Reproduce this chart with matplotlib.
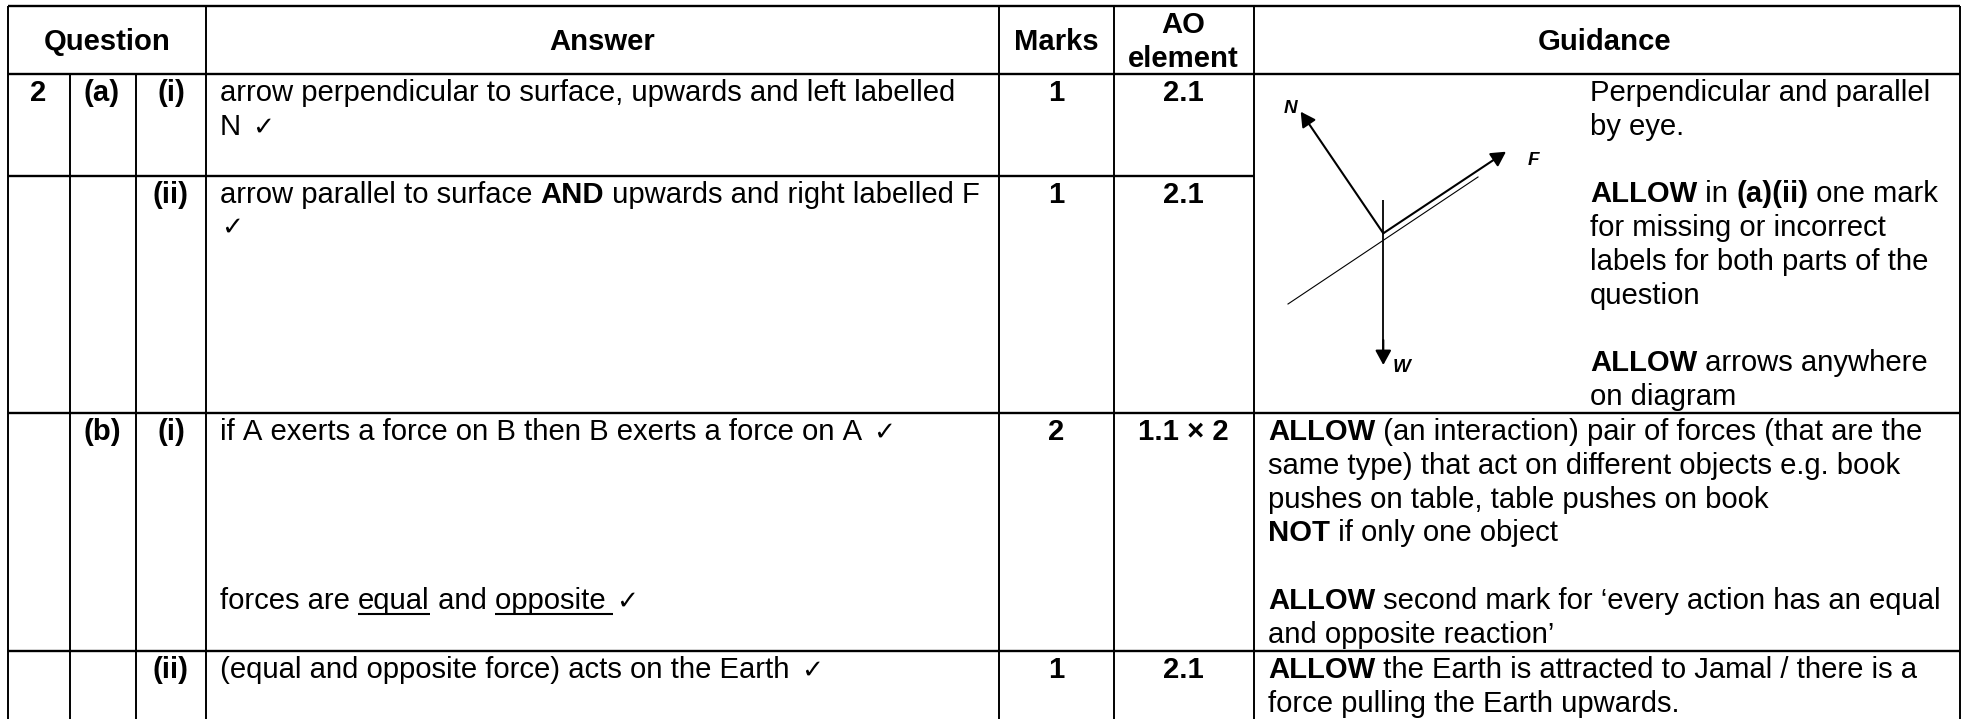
import matplotlib
matplotlib.use("Agg")
import matplotlib.pyplot as plt
from matplotlib.patches import FancyArrowPatch

W, H = 1961, 719
FONT = "Liberation Sans"
SIZE = 21.05
CHECK = "\u2713"

# ---- table content ------------------------------------------------------
headers = ["Question", "Answer", "Marks", "AO\nelement", "Guidance"]
question_labels = ["2", "(a)", "(i)", "(ii)", "(b)", "(i)", "(ii)"]
marks = ["1", "1", "2", "1"]
ao_elements = ["2.1", "2.1", "1.1 \u00d7 2", "2.1"]

answer_a_i = ["arrow perpendicular to surface, upwards and left labelled", "N"]
answer_a_ii = ["arrow parallel to surface ", "AND", " upwards and right labelled F"]
answer_b_i_1 = "if A exerts a force on B then B exerts a force on A"
answer_b_i_2 = ["forces are ", "equal", " and ", "opposite "]
answer_b_ii = "(equal and opposite force) acts on the Earth"

guidance_top = [
    [("Perpendicular and parallel", False)],
    [("by eye.", False)],
    [],
    [("ALLOW", True), (" in ", False), ("(a)(ii)", True), (" one mark", False)],
    [("for missing or incorrect", False)],
    [("labels for both parts of the", False)],
    [("question", False)],
    [],
    [("ALLOW", True), (" arrows anywhere", False)],
    [("on diagram", False)],
]
guidance_b_i = [
    [("ALLOW", True), (" (an interaction) pair of forces (that are the", False)],
    [("same type) that act on different objects e.g. book", False)],
    [("pushes on table, table pushes on book", False)],
    [("NOT", True), (" if only one object", False)],
    [],
    [("ALLOW", True), (" second mark for \u2018every action has an equal", False)],
    [("and opposite reaction\u2019", False)],
]
guidance_b_ii = [
    [("ALLOW", True), (" the Earth is attracted to Jamal / there is a", False)],
    [("force pulling the Earth upwards.", False)],
]
force_labels = ["N", "F", "W"]

# ---- canvas -------------------------------------------------------------
fig = plt.figure(figsize=(W / 100, H / 100), dpi=100, facecolor="white")
ax = fig.add_axes([0, 0, 1, 1])
ax.set_xlim(0, W)
ax.set_ylim(H, 0)
ax.axis("off")
fig.canvas.draw()
rend = fig.canvas.get_renderer()


def txt(x, y, s, bold=False, ha="left", size=SIZE, italic=False):
    return ax.text(x, y, s, family=FONT, fontsize=size, color="black",
                   fontweight="bold" if bold else "normal",
                   fontstyle="italic" if italic else "normal",
                   ha=ha, va="baseline")


def width(s, bold=False):
    t = txt(0, 0, s.replace(" ", "\u00a0"), bold=bold)
    w = t.get_window_extent(rend).width
    t.remove()
    return w


def runs(x, y, parts):
    for s, b in parts:
        txt(x, y, s.replace(" ", "\u00a0"), bold=b)
        x += width(s, b)
    return x


def check(x, y):
    ax.text(x, y, CHECK, family="DejaVu Sans", fontsize=19, color="black",
            ha="left", va="baseline")


# ---- grid ---------------------------------------------------------------
vx = [7.5, 69.5, 136, 206, 998.5, 1114, 1253.5]
hy = [6, 74, 176, 413, 651]
R = 1960
B = 719
for i, x in enumerate(vx):
    top = hy[1] if i in (1, 2) else hy[0]
    ax.plot([x, x], [top, B], color="black", lw=1.4, solid_capstyle="butt")
ax.plot([R, R], [hy[0], B], color="black", lw=1.4, solid_capstyle="butt")
for y in hy:
    x1 = R if y != 176 else vx[6]
    ax.plot([vx[0], x1], [y, y], color="black", lw=1.7, solid_capstyle="butt")

# ---- header -------------------------------------------------------------
txt(107, 50, headers[0], True, "center")
txt(602, 50, headers[1], True, "center")
txt(1056, 50, headers[2], True, "center")
txt(1183.5, 33, headers[3].split("\n")[0], True, "center")
txt(1183.5, 67, headers[3].split("\n")[1], True, "center")
txt(1605, 50, headers[4], True, "center")

# ---- question column ----------------------------------------------------
txt(38, 101, question_labels[0], True, "center")
txt(102, 101, question_labels[1], True, "center")
txt(171, 101, question_labels[2], True, "center")
txt(171, 203, question_labels[3], True, "center")
txt(102, 440, question_labels[4], True, "center")
txt(171, 440, question_labels[5], True, "center")
txt(171, 678, question_labels[6], True, "center")

# ---- answers ------------------------------------------------------------
XA = 220
GAP = 3
txt(XA, 101, answer_a_i[0])
x = runs(XA, 135, [(answer_a_i[1] + " ", False)])
check(x + GAP, 135)
runs(XA, 203, [(answer_a_ii[0], False), (answer_a_ii[1], True), (answer_a_ii[2], False)])
check(XA + 1, 235)
x = runs(XA, 440, [(answer_b_i_1 + " ", False)])
check(x + GAP, 440)
x = XA
for i, part in enumerate(answer_b_i_2):
    w = width(part)
    txt(x, 609, part.replace(" ", "\u00a0"))
    if i in (1, 3):
        ax.plot([x, x + w], [614, 614], color="black", lw=1.5, solid_capstyle="butt")
    x += w
check(x + GAP, 609)
x = runs(XA, 678, [(answer_b_ii + " ", False)])
check(x + GAP, 678)

# ---- marks / AO ---------------------------------------------------------
for y, m, a in zip([101, 203, 440, 678], marks, ao_elements):
    txt(1056, y, m, True, "center")
    txt(1183.5, y, a, True, "center")

# ---- guidance -----------------------------------------------------------
LH = 33.8
XG1, XG2 = 1590, 1268
for i, line in enumerate(guidance_top):
    runs(XG1, 101 + i * LH, line)
for i, line in enumerate(guidance_b_i):
    runs(XG2, 440 + i * LH, line)
for i, line in enumerate(guidance_b_ii):
    runs(XG2, 678 + i * LH, line)

# ---- force diagram ------------------------------------------------------
origin = (1383.3, 233.3)
ax.plot([1288, 1478], [304, 177], color="black", lw=0.8)
ax.plot([1383.3, 1383.3], [200, 355], color="black", lw=1.3, solid_capstyle="butt")
for start, tip in [(origin, (1300.7, 111.7)), (origin, (1506, 151.7)),
                   ((1383.3, 340), (1383.3, 365))]:
    ax.add_patch(FancyArrowPatch(start, tip,
                                 arrowstyle="-|>,head_length=8.8,head_width=4.8",
                                 color="black", lw=1.5, shrinkA=0, shrinkB=0,
                                 mutation_scale=1))
txt(1290, 112.7, force_labels[0], True, "center", size=13.6, italic=True)
txt(1533, 165, force_labels[1], True, "center", size=13.6, italic=True)
txt(1402, 371.7, force_labels[2], True, "center", size=13.6, italic=True)

fig.savefig("out.png", dpi=100, facecolor="white")
